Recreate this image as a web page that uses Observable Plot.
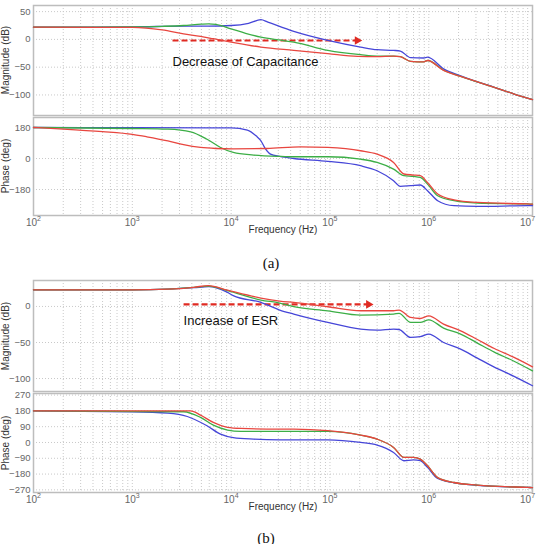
<!DOCTYPE html>
<html>
<head>
<meta charset="utf-8">
<script src="https://cdn.jsdelivr.net/npm/d3@7"></script>
<script src="https://cdn.jsdelivr.net/npm/@observablehq/plot@0.6"></script>
<style>
  body { margin: 0; background: #fff; }
  #wrap { position: relative; width: 542px; height: 544px; overflow: hidden; background: #fff; }
  #wrap svg { position: absolute; left: 0; }
  .cap { position: absolute; font-family: "Liberation Serif", "Times New Roman", serif; font-size: 15px; color: #111; transform: translate(-50%, -50%); white-space: nowrap; }
  .ylab { position: absolute; font-family: "Liberation Sans", Arial, sans-serif; font-size: 10px; color: #333; white-space: nowrap; transform: translate(-50%, -50%) rotate(-90deg); line-height: 1; }
</style>
</head>
<body>
<div id="wrap"></div>
<script>
// ---------- shared axis data ----------
const freqTicks = [1e2, 1e3, 1e4, 1e5, 1e6, 1e7];
const freqExponents = ["2", "3", "4", "5", "6", "7"];
const gridDecades = [1e2, 1e3, 1e4, 1e5, 1e6];
const gridMultipliers = [1, 2, 3, 4, 5, 6, 7, 8, 9];
const gridFreqs = gridDecades.flatMap(d => gridMultipliers.map(m => d * m)).concat([1e7]);

const magTicksA = [50, 0, -50, -100];
const phaseTicksA = [180, 0, -180];
const magTicksB = [0, -50, -100];
const phaseTicksB = [270, 180, 90, 0, -90, -180, -270];

// ---------- (a) magnitude, dB  [Hz, dB] ----------
const aMagBlue = [[100,22],[1000,22.5],[3300,24],[6000,24],[10000,25],[15000,29],[20000,35.4],[23500,31],[43000,14.4],[95000,-1.8],[204000,-13.8],[300000,-18.5],[440000,-19.8],[515000,-21],[655000,-33],[885000,-33.5],[973000,-32],[1.41e6,-53],[2.1e6,-65.5],[3.1e6,-76.4],[4.6e6,-86.2],[7.2e6,-97.9],[1.12e7,-108.5]];
const aMagGreen = [[100,22],[1000,22.5],[2000,23.5],[3300,25],[5000,27.5],[5900,28],[7000,27],[10000,19],[14000,11],[20000,4],[30000,-1],[43000,-4.8],[95000,-19.8],[204000,-27.6],[300000,-30],[440000,-30],[515000,-31],[655000,-39.6],[885000,-40.5],[973000,-38],[1.41e6,-55.5],[2.1e6,-66.6],[3.1e6,-76.4],[4.6e6,-86.2],[7.2e6,-97.9],[1.12e7,-108.5]];
const aMagRed = [[100,22],[1000,21.5],[2000,17],[3300,10],[4900,5.4],[6600,1.2],[10000,-4.8],[20000,-13.8],[43000,-19.8],[95000,-25.7],[190000,-30.5],[300000,-31],[440000,-30],[515000,-31],[655000,-39.6],[885000,-40.5],[973000,-38],[1.41e6,-55.8],[2.1e6,-66.6],[3.1e6,-76.4],[4.6e6,-86.2],[7.2e6,-97.9],[1.12e7,-108.5]];

// ---------- (a) phase, deg ----------
const aPhBlue = [[100,180],[1000,179],[10000,178],[14600,165],[18000,130],[20000,103],[22000,60],[25000,25],[31000,12],[43000,0],[95000,-17],[204000,-42],[300000,-71],[440000,-129],[515000,-162],[655000,-158],[820000,-154],[970000,-187],[1.23e6,-245],[1.8e6,-274],[3.1e6,-278],[1e7,-274],[1.12e7,-274]];
const aPhGreen = [[100,180],[1000,174],[2290,170],[3900,155],[5700,112],[7800,64],[10500,35],[16900,20],[31000,12],[43000,10],[95000,10],[204000,-4],[300000,-23],[440000,-62],[560000,-100],[700000,-104],[820000,-110],[970000,-149],[1.23e6,-216],[1.8e6,-245],[3.1e6,-259],[1e7,-264],[1.12e7,-265]];
const aPhRed = [[100,180],[200,171],[500,156],[1000,140],[1400,126],[2290,102],[3300,80],[4900,64],[7000,58],[10500,56],[23000,58],[50000,68],[95000,64],[204000,45],[300000,25],[440000,-23],[560000,-90],[700000,-96],[820000,-100],[970000,-139],[1.23e6,-206],[1.8e6,-240],[3.1e6,-255],[1e7,-264],[1.12e7,-265]];

// ---------- (b) magnitude, dB ----------
const bMagBlue = [[100,23],[1000,23],[2290,24],[4200,26],[5900,27.5],[9200,19.5],[10500,15],[20000,5.6],[31000,-5],[43000,-10.6],[95000,-22.2],[204000,-31.4],[300000,-32.8],[440000,-31.4],[500000,-32],[655000,-43],[820000,-42],[1e6,-38.4],[1.41e6,-50],[2.1e6,-59.2],[3.1e6,-71.7],[4.6e6,-84.1],[7.2e6,-96.6],[1.12e7,-110]];
const bMagGreen = [[100,23],[1000,23],[2290,24],[4200,26.4],[5900,28.3],[9200,21.8],[20000,8.9],[31000,4.7],[43000,-0.4],[95000,-6],[204000,-12],[440000,-10.6],[500000,-9.5],[655000,-22.2],[820000,-22],[1e6,-18.5],[1.41e6,-30],[2.1e6,-38.4],[3.1e6,-50.8],[4.6e6,-63.3],[7.2e6,-75.7],[1.12e7,-89.4]];
const bMagRed = [[100,23],[1000,23],[2290,24],[4200,26.6],[5900,29],[9200,22.5],[20000,11.7],[31000,7.5],[43000,5.6],[95000,-0.4],[204000,-6],[440000,-6],[500000,-5],[655000,-15.3],[820000,-16.7],[1e6,-13],[1.41e6,-24.5],[2.1e6,-33.8],[3.1e6,-45.8],[4.6e6,-58.4],[7.2e6,-70.4],[1.12e7,-83.8]];

// ---------- (b) phase, deg ----------
const bPhBlue = [[100,180],[1000,175],[2290,167],[3600,148],[5700,95],[7800,48],[10500,28],[16900,19],[31000,15],[95000,15],[204000,0],[300000,-15],[440000,-57],[560000,-104],[700000,-99],[820000,-104],[970000,-142],[1.23e6,-205],[1.8e6,-230],[3.1e6,-244],[1e7,-256],[1.12e7,-257]];
const bPhGreen = [[100,180],[3300,175],[4900,143],[6600,99],[9200,71],[12500,63],[31000,63],[95000,63],[204000,42],[300000,19],[440000,-28],[560000,-85],[700000,-85],[820000,-95],[970000,-133],[1.23e6,-200],[1.8e6,-228],[3.1e6,-243],[1e7,-256],[1.12e7,-257]];
const bPhRed = [[100,180],[3900,180],[4900,156],[6600,114],[9200,86],[12500,80],[31000,76],[43000,76],[95000,67],[204000,42],[300000,19],[440000,-28],[560000,-85],[700000,-85],[820000,-95],[970000,-133],[1.23e6,-200],[1.8e6,-228],[3.1e6,-243],[1e7,-256],[1.12e7,-257]];

// ---------- annotations ----------
const capArrowF = [2550, 189000];
const capArrowDb = -2;
const capText = "Decrease of Capacitance";
const capTextAt = [2550, -39.5];
const esrArrowF = [3300, 246000];
const esrArrowDb = 2.8;
const esrText = "Increase of ESR";
const esrTextAt = [3300, -20];

const COLORS = {blue: "#4646d8", green: "#3cae46", red: "#e8463f"};
const FONT = "'Liberation Sans', Arial, Helvetica, sans-serif";
const X_DOMAIN = [100, 1.12e7];

function curveMarks(blue, green, red) {
  return [
    [blue, COLORS.blue], [green, COLORS.green], [red, COLORS.red]
  ].map(([d, c]) => Plot.line(d, {x: p => p[0], y: p => p[1], stroke: c, strokeWidth: 1.3, curve: "monotone-x"}));
}

function arrowMarks(fs, db, label, labelAt) {
  const seg = [{x1: fs[0], x2: fs[1], y: db}];
  return [
    Plot.link(seg, {x1: "x1", x2: "x2", y1: "y", y2: "y", stroke: "#e02a22", strokeWidth: 2.2, strokeDasharray: "6,3"}),
    Plot.dot([{x: fs[1], y: db}], {x: "x", y: "y", symbol: "triangle", rotate: 90, r: 3.2, fill: "#e02a22", stroke: "none"}),
    Plot.text([{x: labelAt[0], y: labelAt[1], t: label}], {x: "x", y: "y", text: "t", textAnchor: "start", fontSize: 13, fill: "#111"})
  ];
}

const wrap = document.getElementById("wrap");

function panel({top, height, mt, mb, yDomain, yTicks, series, ylabel, xlabels, extras = []}) {
  const marks = [
    Plot.ruleX(gridFreqs, {stroke: "#c9c9c9", strokeDasharray: "1,2", strokeWidth: 1}),
    Plot.ruleY(yTicks, {stroke: "#c9c9c9", strokeDasharray: "1,2", strokeWidth: 1}),
    Plot.frame({stroke: "#bdbdbd", strokeWidth: 1.5}),
    Plot.axisY(yTicks, {tickSize: 0, tickPadding: 3, fontSize: 9.5, color: "#666", label: null}),
    ...extras,
    ...curveMarks(...series)
  ];
  if (xlabels) {
    marks.push(
      Plot.axisX(freqTicks, {tickSize: 0, tickPadding: 3, fontSize: 10, color: "#666", tickFormat: () => "10", textAnchor: "end", dx: 3.5, label: null}),
      Plot.text(freqTicks, {x: d => d, text: (d, i) => freqExponents[i], frameAnchor: "bottom", dx: 3.5, dy: 5, textAnchor: "start", fontSize: 7, fill: "#666"}),
      Plot.text(["Frequency (Hz)"], {frameAnchor: "bottom", dy: 17, text: d => d, fontSize: 10, fill: "#333"})
    );
  }
  const svg = Plot.plot({
    width: 542, height,
    marginLeft: 33, marginRight: 10, marginTop: mt, marginBottom: mb,
    x: {type: "log", domain: X_DOMAIN, axis: null},
    y: {domain: yDomain, axis: null},
    style: {background: "transparent", fontFamily: FONT, overflow: "visible"},
    marks
  });
  svg.style.top = top + "px";
  wrap.append(svg);
  // rotated y-axis title, centred on the panel's frame
  const lab = document.createElement("div");
  lab.className = "ylab";
  lab.textContent = ylabel;
  lab.style.left = "6px";
  lab.style.top = (top + mt + (height - mt - mb) / 2) + "px";
  wrap.append(lab);
}

panel({top: 0, height: 120, mt: 5, mb: 5, yDomain: [-137, 61], yTicks: magTicksA,
  series: [aMagBlue, aMagGreen, aMagRed], ylabel: "Magnitude (dB)", xlabels: false,
  extras: arrowMarks(capArrowF, capArrowDb, capText, capTextAt)});
panel({top: 112, height: 130, mt: 5, mb: 27, yDomain: [-331, 238], yTicks: phaseTicksA,
  series: [aPhBlue, aPhGreen, aPhRed], ylabel: "Phase (deg)", xlabels: true});
panel({top: 275, height: 121, mt: 5, mb: 5, yDomain: [-118, 36], yTicks: magTicksB,
  series: [bMagBlue, bMagGreen, bMagRed], ylabel: "Magnitude (dB)", xlabels: false,
  extras: arrowMarks(esrArrowF, esrArrowDb, esrText, esrTextAt)});
panel({top: 388, height: 131, mt: 5, mb: 27, yDomain: [-285, 279], yTicks: phaseTicksB,
  series: [bPhBlue, bPhGreen, bPhRed], ylabel: "Phase (deg)", xlabels: true});

for (const [t, x, y] of [["(a)", 271, 263], ["(b)", 266, 538]]) {
  const d = document.createElement("div");
  d.className = "cap";
  d.textContent = t;
  d.style.left = x + "px";
  d.style.top = y + "px";
  wrap.append(d);
}
</script>
</body>
</html>
